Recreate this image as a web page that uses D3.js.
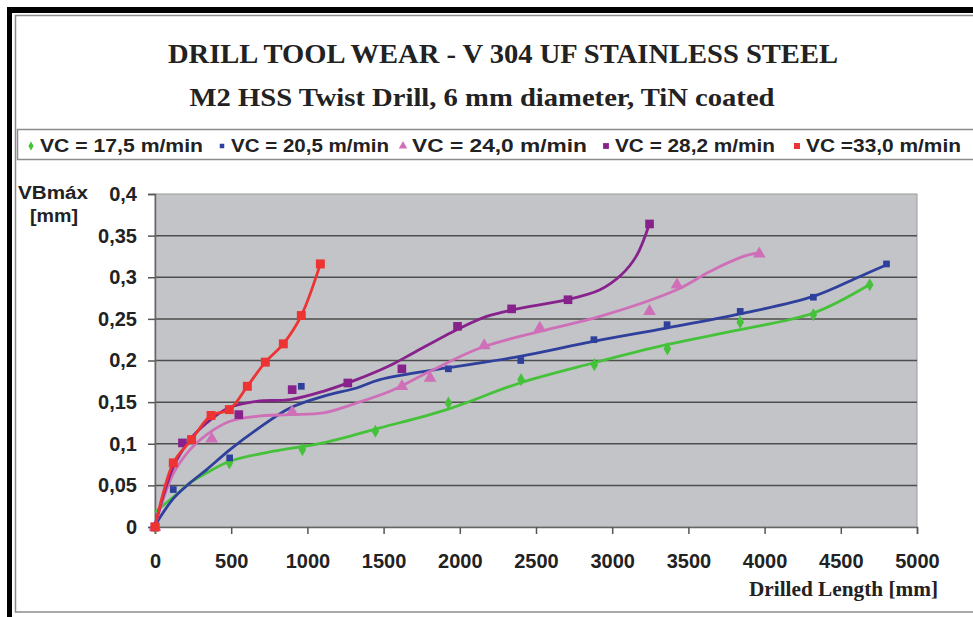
<!DOCTYPE html>
<html>
<head>
<meta charset="utf-8">
<script src="https://cdn.jsdelivr.net/npm/d3@7"></script>
<style>
  body { margin: 0; background: #fff; }
  svg { display: block; }
</style>
</head>
<body>
<div id="chart"></div>
<script>
const W = 973
const H = 617
const PLOT = { LEFT: 155, RIGHT: 917, TOP: 194, BOTTOM: 527 }

// series names (legend order)
const seriesNames = ["VC = 17,5 m/min", "VC = 20,5 m/min", "VC = 24,0 m/min", "VC = 28,2 m/min", "VC =33,0 m/min"]

// measured points [drilled length mm, VBmax mm]
const vc175Points = [[0, 0], [488, 0.077], [967, 0.093], [1446, 0.115], [1925, 0.149], [2402, 0.177], [2883, 0.195], [3362, 0.214], [3840, 0.246], [4320, 0.255], [4690, 0.291]]
const vc205Points = [[0, 0], [120, 0.045], [490, 0.083], [960, 0.169], [1925, 0.19], [2400, 0.2], [2880, 0.225], [3360, 0.243], [3840, 0.259], [4320, 0.276], [4800, 0.316]]
const vc240Points = [[0, 0], [372, 0.106], [900, 0.138], [1620, 0.169], [1805, 0.179], [2160, 0.218], [2525, 0.239], [3245, 0.259], [3425, 0.291], [3965, 0.328]]
const vc282Points = [[0, 0], [180, 0.101], [550, 0.135], [900, 0.165], [1265, 0.173], [1620, 0.19], [1985, 0.241], [2340, 0.262], [2710, 0.273], [3245, 0.364]]
const vc330Points = [[0, 0], [120, 0.077], [240, 0.105], [368, 0.134], [488, 0.141], [606, 0.169], [724, 0.198], [842, 0.22], [960, 0.254], [1085, 0.316]]

// trend lines
const vc175Trend = [[0, 0.018], [120, 0.036], [230, 0.053], [339, 0.065], [492, 0.079], [776, 0.091], [1104, 0.101], [1476, 0.119], [1914, 0.141], [2395, 0.173], [2876, 0.197], [3357, 0.219], [3839, 0.237], [4320, 0.257], [4687, 0.291]]
const vc205Trend = [[0, 0.002], [120, 0.034], [230, 0.053], [339, 0.069], [492, 0.093], [667, 0.117], [886, 0.143], [1104, 0.157], [1323, 0.167], [1476, 0.177], [1914, 0.191], [2395, 0.205], [2876, 0.223], [3357, 0.239], [3839, 0.256], [4320, 0.277], [4626, 0.301], [4801, 0.315]]
const vc240Trend = [[0, 0.002], [120, 0.064], [230, 0.093], [339, 0.111], [492, 0.127], [667, 0.133], [886, 0.135], [1104, 0.137], [1323, 0.149], [1542, 0.163], [1805, 0.187], [2133, 0.215], [2526, 0.235], [2920, 0.253], [3424, 0.285], [3642, 0.307], [3861, 0.325], [3948, 0.329]]
const vc282Trend = [[0, 0.002], [120, 0.072], [230, 0.105], [339, 0.125], [481, 0.143], [667, 0.151], [886, 0.153], [1104, 0.163], [1323, 0.177], [1542, 0.194], [1695, 0.209], [1980, 0.237], [2177, 0.253], [2351, 0.261], [2702, 0.273], [2920, 0.285], [3060, 0.303], [3160, 0.326], [3244, 0.364]]
const vc330Trend = vc330Points

const xTicks = [0, 500, 1000, 1500, 2000, 2500, 3000, 3500, 4000, 4500, 5000]
const yTicks = [0, 0.05, 0.1, 0.15, 0.2, 0.25, 0.3, 0.35, 0.4]

const series = [
  { name: seriesNames[0], points: vc175Points, trend: vc175Trend, color: "#45c23a", symbol: d3.symbolDiamond, size: 50 },
  { name: seriesNames[1], points: vc205Points, trend: vc205Trend, color: "#2f3f9c", symbol: d3.symbolSquare, size: 45 },
  { name: seriesNames[2], points: vc240Points, trend: vc240Trend, color: "#cf6fb8", symbol: d3.symbolTriangle, size: 70 },
  { name: seriesNames[3], points: vc282Points, trend: vc282Trend, color: "#87228c", symbol: d3.symbolSquare, size: 75 },
  { name: seriesNames[4], points: vc330Points, trend: vc330Trend, color: "#ee3333", symbol: d3.symbolSquare, size: 80 }
]

const SANS = "'Liberation Sans', Arial, sans-serif"
const SERIF = "'Liberation Serif', 'Times New Roman', serif"

const svg = d3.select("#chart")
              .append("svg")
              .attr("width", W)
              .attr("height", H)

// frames
svg.append("rect").attr("x", 15.5).attr("y", 15.5).attr("width", 980).attr("height", 596.5)
   .attr("fill", "none").attr("stroke", "#8c8c8c").attr("stroke-width", 1.5)
svg.append("rect").attr("x", 7).attr("y", 7).attr("width", W).attr("height", 6).attr("fill", "#000")
svg.append("rect").attr("x", 7).attr("y", 7).attr("width", 5).attr("height", H).attr("fill", "#000")

// titles
svg.append("text")
   .attr("x", 503).attr("y", 63)
   .attr("text-anchor", "middle")
   .attr("textLength", 670).attr("lengthAdjust", "spacingAndGlyphs")
   .style("font", `bold 27px ${SERIF}`)
   .attr("fill", "#222")
   .text("DRILL TOOL WEAR - V 304 UF STAINLESS STEEL")

svg.append("text")
   .attr("x", 482).attr("y", 106)
   .attr("text-anchor", "middle")
   .attr("textLength", 585).attr("lengthAdjust", "spacingAndGlyphs")
   .style("font", `bold 26px ${SERIF}`)
   .attr("fill", "#222")
   .text("M2 HSS Twist Drill, 6 mm diameter, TiN coated")

// legend
svg.append("rect").attr("x", 17.5).attr("y", 129.5).attr("width", 980).attr("height", 30)
   .attr("fill", "#fff").attr("stroke", "#8c8c8c").attr("stroke-width", 1.5)

const legendX = [31, 222, 403, 606, 797]
const legendW = [163, 158, 175, 160, 155]
const legend = svg.append("g")
series.forEach((s, i) => {
  legend.append("path")
        .attr("transform", `translate(${legendX[i]}, 146)`)
        .attr("d", d3.symbol(s.symbol, s.size * 0.45)())
        .attr("fill", s.color)
  legend.append("text")
        .attr("x", legendX[i] + 9).attr("y", 152)
        .attr("textLength", legendW[i]).attr("lengthAdjust", "spacingAndGlyphs")
        .style("font", `bold 19px ${SANS}`)
        .attr("fill", "#222")
        .text(s.name)
})

const x = d3.scaleLinear().domain([0, 5000]).range([PLOT.LEFT, PLOT.RIGHT])
const y = d3.scaleLinear().domain([0, 0.4]).range([PLOT.BOTTOM, PLOT.TOP])

// plot area
svg.append("rect")
   .attr("x", PLOT.LEFT).attr("y", PLOT.TOP)
   .attr("width", PLOT.RIGHT - PLOT.LEFT).attr("height", PLOT.BOTTOM - PLOT.TOP)
   .attr("fill", "#c3c4c8").attr("stroke", "#9a9a9a").attr("stroke-width", 1)

svg.append("g")
   .selectAll("line")
   .data(yTicks.filter(d => d > 0 && d < 0.4))
   .enter().append("line")
   .attr("x1", PLOT.LEFT).attr("x2", PLOT.RIGHT)
   .attr("y1", d => y(d)).attr("y2", d => y(d))
   .attr("stroke", "#4d4d4d").attr("stroke-width", 1.5)

const fmt = d => String(d).replace(".", ",")

const yAxis = svg.append("g")
                 .attr("transform", `translate(${PLOT.LEFT}, 0)`)
                 .call(d3.axisLeft(y).tickValues(yTicks).tickFormat(fmt).tickSize(7).tickPadding(11))
const xAxis = svg.append("g")
                 .attr("transform", `translate(0, ${PLOT.BOTTOM})`)
                 .call(d3.axisBottom(x).tickValues(xTicks).tickFormat(d3.format("d")).tickSize(7).tickPadding(20))

;[yAxis, xAxis].forEach(a => {
  a.select(".domain").attr("stroke", "#666").attr("stroke-width", 1.5)
  a.selectAll(".tick line").attr("stroke", "#555").attr("stroke-width", 1.5)
  a.selectAll("text")
   .style("font", `bold 20px ${SANS}`)
   .attr("fill", "#222")
})

// axis titles
svg.append("text").attr("x", 53).attr("y", 199).attr("text-anchor", "middle")
   .attr("textLength", 70).attr("lengthAdjust", "spacingAndGlyphs")
   .style("font", `bold 18px ${SANS}`).attr("fill", "#222").text("VBmáx")
svg.append("text").attr("x", 54).attr("y", 222).attr("text-anchor", "middle")
   .attr("textLength", 48).attr("lengthAdjust", "spacingAndGlyphs")
   .style("font", `bold 18px ${SANS}`).attr("fill", "#222").text("[mm]")
svg.append("text").attr("x", 938).attr("y", 596).attr("text-anchor", "end")
   .attr("textLength", 189).attr("lengthAdjust", "spacingAndGlyphs")
   .style("font", `bold 21px ${SERIF}`).attr("fill", "#222").text("Drilled Length [mm]")

// series
const line = d3.line()
               .x(d => x(d[0]))
               .y(d => y(d[1]))
               .curve(d3.curveCatmullRom.alpha(0.5))

series.forEach(s => {
  const g = svg.append("g")
  g.append("path")
   .datum(s.trend)
   .attr("d", line)
   .attr("fill", "none")
   .attr("stroke", s.color)
   .attr("stroke-width", 2.8)
  g.selectAll("path.mark")
   .data(s.points)
   .enter().append("path")
   .attr("class", "mark")
   .attr("transform", d => `translate(${x(d[0])}, ${y(d[1])})`)
   .attr("d", d3.symbol(s.symbol, s.size)())
   .attr("fill", s.color)
})
</script>
</body>
</html>
